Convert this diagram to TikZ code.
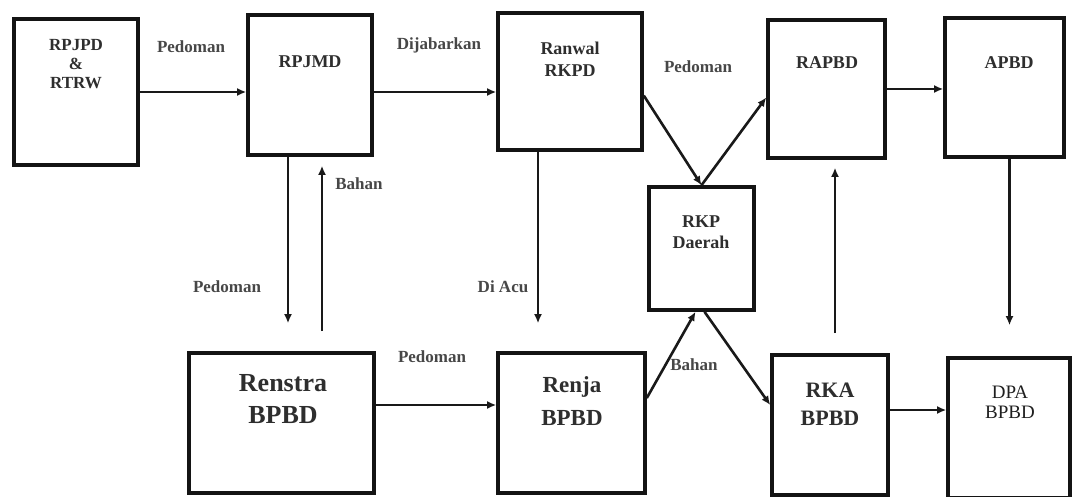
\documentclass[tikz,border=0pt]{standalone}
\usepackage{fontspec}
\setmainfont{Liberation Serif}
\usetikzlibrary{arrows.meta,calc}
\begin{document}
\begin{tikzpicture}[x=1pt,y=-1pt,
  box/.style={draw=black!92, line width=3.6pt, inner sep=0pt},
  txt/.style={text=black!82, font=\bfseries\fontsize{18}{21}\selectfont, align=center, inner sep=0pt},
  lbl/.style={text=black!72, font=\bfseries\fontsize{17}{19}\selectfont, inner sep=0pt},
  arr/.style={line width=2.6pt, draw=black!90, -{Latex[length=9pt,width=8pt]}}]
\useasboundingbox[fill=white] (0,0) rectangle (1074,497);
% boxes
\node[box, minimum width=124pt, minimum height=146pt] (b1) at (76,92) {};
\node[box, minimum width=124pt, minimum height=140pt] (b2) at (310,85) {};
\node[box, minimum width=144pt, minimum height=137pt] (b3) at (570,81.5) {};
\node[box, minimum width=117pt, minimum height=138pt] (b4) at (826.5,89) {};
\node[box, minimum width=119pt, minimum height=139pt] (b5) at (1004.5,87.5) {};
\node[box, minimum width=105pt, minimum height=123pt] (b6) at (701.5,248.5) {};
\node[box, minimum width=185pt, minimum height=140pt] (b7) at (281.5,423) {};
\node[box, minimum width=147pt, minimum height=140pt] (b8) at (571.5,423) {};
\node[box, minimum width=116pt, minimum height=140pt] (b9) at (830,425) {};
\node[box, minimum width=122pt, minimum height=140pt] (b10) at (1009,428) {};
% box texts
\node[txt, font=\bfseries\fontsize{17}{19}\selectfont] (t1) at (76,64) {RPJPD\\\&\\RTRW};
\node[txt] (t2) at (310,62) {RPJMD};
\node[txt, font=\bfseries\fontsize{18}{22}\selectfont] (t3) at (570,59) {Ranwal\\RKPD};
\node[txt] (t4) at (827,63) {RAPBD};
\node[txt] (t5) at (1009,63) {APBD};
\node[txt] (t6) at (701,232) {RKP\\Daerah};
\node[txt, font=\bfseries\fontsize{26}{32}\selectfont] (t7) at (283,399) {Renstra\\BPBD};
\node[txt, font=\bfseries\fontsize{23}{33}\selectfont] (t8) at (572,401) {Renja\\BPBD};
\node[txt, font=\bfseries\fontsize{22}{28}\selectfont] (t9) at (830,404) {RKA\\BPBD};
\node[txt, text=black!88, font=\fontsize{19}{20}\selectfont] (t10) at (1010,402) {DPA\\BPBD};
% helper coordinates
\coordinate (c2) at ($(b2.east)+(0,7)$);
\coordinate (c3) at ($(b3.north east)!0.6!(b3.south east)$);
\coordinate (c4) at ($(b4.north west)!0.56!(b4.south west)$);
\coordinate (c6) at ($(b5.south)+(5,0)$);
\coordinate (c7) at ($(b2.south)+(-22,0)$);
\coordinate (c8) at ($(b2.south)+(12,0)$);
\coordinate (c9) at ($(b3.south)+(-32,0)$);
\coordinate (c10) at ($(b7.east)+(0,-18)$);
\coordinate (c11) at ($(b8.east)+(0,-25)$);
\coordinate (c12) at ($(b9.west)+(0,-20)$);
\coordinate (c13) at ($(b9.north)+(5,0)$);
\coordinate (c14) at ($(b9.east)+(0,-15)$);
% connectors
\draw[arr] (b1.east) -- (b1.east -| b2.west);
\draw[arr] (c2) -- (c2 -| b3.west);
\draw[arr] (c3) -- (b6.north);
\draw[arr] (b6.north) -- (c4);
\draw[arr] (b4.east) -- (b4.east -| b5.west);
\draw[arr, shorten >=31pt] (c6) -- (c6 |- b10.north);
\draw[arr, shorten >=28pt] (c7) -- (c7 |- b7.north);
\draw[arr, shorten <=20pt, shorten >=9pt] (c8 |- b7.north) -- (c8);
\draw[arr, shorten >=28pt] (c9) -- (c9 |- b8.north);
\draw[arr] (c10) -- (c10 -| b8.west);
\draw[arr] (c11) -- ($(b6.south)+(-6,0)$);
\draw[arr] ($(b6.south)+(3,0)$) -- (c12);
\draw[arr, shorten <=20pt, shorten >=8pt] (c13) -- (c13 |- b4.south);
\draw[arr] (c14) -- (c14 -| b10.west);
% labels
\node[lbl] (l1) at (191,47) {Pedoman};
\node[lbl] (l2) at (439,45) {Dijabarkan};
\node[lbl] (l3) at (698,67) {Pedoman};
\node[lbl] (l4) at (359,184) {Bahan};
\node[lbl] (l5) at (227,287) {Pedoman};
\node[lbl] (l6) at (503,287) {Di Acu};
\node[lbl] (l7) at (432,357) {Pedoman};
\node[lbl] (l8) at (694,365) {Bahan};
\end{tikzpicture}
\end{document}
